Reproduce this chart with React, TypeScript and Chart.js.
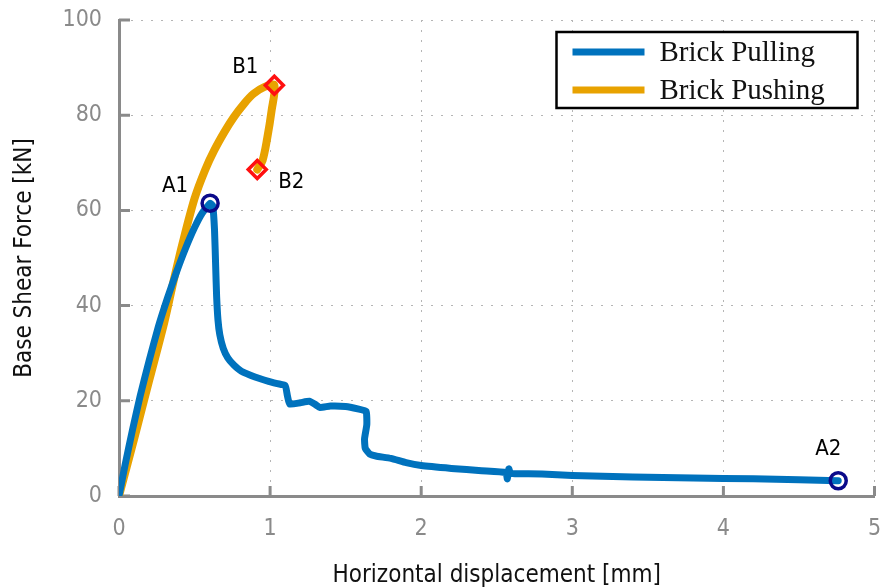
import React, { useEffect, useRef } from "react";
import { Chart, registerables } from "chart.js";

Chart.register(...registerables);

// ---- data ----
const pullingX = [0, 0.04, 0.09, 0.14, 0.2, 0.26, 0.32, 0.38, 0.44, 0.5, 0.55, 0.603, 0.62, 0.632, 0.64, 0.646, 0.655, 0.667, 0.69, 0.72, 0.76, 0.81, 0.9, 0.99, 1.05, 1.1, 1.115, 1.13, 1.2, 1.26, 1.3, 1.33, 1.4, 1.5, 1.58, 1.635, 1.64, 1.625, 1.63, 1.66, 1.7, 1.8, 1.9, 2.0, 2.2, 2.4, 2.56, 2.57, 2.58, 2.59, 2.62, 2.8, 3.0, 3.4, 3.8, 4.2, 4.5, 4.76];
const pullingY = [0, 6.5, 14, 21, 28.5, 35.5, 41.5, 47, 52, 56.4, 59.4, 61.5, 61, 56, 48, 42, 37, 33.9, 31, 29, 27.5, 26.2, 25, 24.1, 23.6, 23.2, 21, 19.3, 19.6, 19.9, 19.2, 18.6, 18.9, 18.8, 18.3, 17.8, 15, 12, 10, 8.8, 8.4, 7.9, 7.0, 6.4, 5.8, 5.3, 4.9, 3.6, 5.7, 4.8, 4.7, 4.6, 4.3, 4.0, 3.8, 3.6, 3.4, 3.2];

const pushingX = [0, 0.1, 0.2, 0.3, 0.36, 0.42, 0.5, 0.57, 0.63, 0.7, 0.76, 0.83, 0.89, 0.96, 1.028, 1.01, 0.98, 0.95, 0.915];
const pushingY = [0, 12, 24.3, 36.5, 45, 53, 62.5, 68.5, 72.6, 76.6, 79.6, 82.5, 84.5, 85.9, 86.3, 81, 75, 70.5, 68.6];

const pointsALabels = ["A1", "A2"];
const pointsAX = [0.603, 4.76];
const pointsAY = [61.5, 3.2];

const pointsBLabels = ["B1", "B2"];
const pointsBX = [1.028, 0.915];
const pointsBY = [86.3, 68.6];

const seriesLabels = ["Brick Pulling", "Brick Pushing"];
const xTicksMin = 0;
const xTicksMax = 5;
const yTicksMin = 0;
const yTicksMax = 100;

// ---- styles ----
const BLUE = "#0072BD";
const ORANGE = "#E8A200";
const AXIS_GRAY = "#8a8a8a";
const SANS = "'DejaVu Sans Condensed', 'DejaVu Sans', sans-serif";

const labelOffsets: Record<string, [number, number]> = {
  A1: [-35, -17],
  A2: [-10, -31],
  B1: [-29, -18],
  B2: [34, 13],
};

const zip = (xs: number[], ys: number[]) => xs.map((x, i) => ({ x, y: ys[i] }));

const inwardTicks = {
  id: "inwardTicks",
  beforeDatasetsDraw(chart: any) {
    const { ctx, chartArea, scales } = chart;
    ctx.save();
    ctx.strokeStyle = AXIS_GRAY;
    ctx.lineWidth = 3;
    ctx.beginPath();
    scales.x.ticks.forEach((t: any) => {
      const px = scales.x.getPixelForValue(t.value);
      ctx.moveTo(px, chartArea.bottom);
      ctx.lineTo(px, chartArea.bottom - 10);
    });
    scales.y.ticks.forEach((t: any) => {
      const py = scales.y.getPixelForValue(t.value);
      ctx.moveTo(chartArea.left, py);
      ctx.lineTo(chartArea.left + 11, py);
    });
    ctx.stroke();
    ctx.restore();
  },
};

const pointLabels = {
  id: "pointLabels",
  afterDatasetsDraw(chart: any) {
    const { ctx, scales } = chart;
    ctx.save();
    ctx.fillStyle = "#000";
    ctx.font = `22px ${SANS}`;
    ctx.textAlign = "center";
    ctx.textBaseline = "middle";
    const draw = (labels: string[], xs: number[], ys: number[]) => {
      labels.forEach((l, i) => {
        const px = scales.x.getPixelForValue(xs[i]);
        const py = scales.y.getPixelForValue(ys[i]);
        const [dx, dy] = labelOffsets[l] || [0, 0];
        ctx.fillText(l, px + dx, py + dy);
      });
    };
    draw(pointsALabels, pointsAX, pointsAY);
    draw(pointsBLabels, pointsBX, pointsBY);
    ctx.restore();
  },
};

const boxLegend = {
  id: "boxLegend",
  afterDraw(chart: any) {
    const { ctx, chartArea } = chart;
    const right = chartArea.right - 17;
    const left = right - 301;
    const top = chartArea.top + 12;
    const h = 76;
    ctx.save();
    ctx.fillStyle = "#fff";
    ctx.fillRect(left, top, right - left, h);
    ctx.strokeStyle = "#000";
    ctx.lineWidth = 2.5;
    ctx.strokeRect(left, top, right - left, h);
    const colors = [BLUE, ORANGE];
    ctx.font = "29px 'Liberation Serif', 'Times New Roman', serif";
    ctx.textBaseline = "middle";
    ctx.textAlign = "left";
    seriesLabels.forEach((lab, i) => {
      const y = top + 20 + i * 38;
      ctx.strokeStyle = colors[i];
      ctx.lineWidth = 7;
      ctx.beginPath();
      ctx.moveTo(left + 16, y);
      ctx.lineTo(left + 88, y);
      ctx.stroke();
      ctx.fillStyle = "#111";
      ctx.fillText(lab, left + 103, y + 1);
    });
    ctx.restore();
  },
};

export default function App() {
  const ref = useRef<HTMLCanvasElement | null>(null);
  useEffect(() => {
    if (!ref.current) return;
    const chart = new Chart(ref.current, {
      type: "scatter",
      data: {
        datasets: [
          {
            label: "A",
            data: zip(pointsAX, pointsAY),
            showLine: false,
            pointStyle: "circle",
            pointRadius: 8,
            pointBorderWidth: 3.5,
            pointBorderColor: "#0a0a8a",
            pointBackgroundColor: "rgba(0,0,0,0)",
          },
          {
            label: "B",
            data: zip(pointsBX, pointsBY),
            showLine: false,
            pointStyle: "rectRot",
            pointRadius: 9,
            pointBorderWidth: 3.5,
            pointBorderColor: "#ff1010",
            pointBackgroundColor: "rgba(0,0,0,0)",
          },
          {
            label: seriesLabels[0],
            data: zip(pullingX, pullingY),
            showLine: true,
            borderColor: BLUE,
            borderWidth: 7,
            pointRadius: 0,
            tension: 0.15,
            borderCapStyle: "round",
            borderJoinStyle: "round",
          },
          {
            label: seriesLabels[1],
            data: zip(pushingX, pushingY),
            showLine: true,
            borderColor: ORANGE,
            borderWidth: 8,
            pointRadius: 0,
            tension: 0.3,
            borderCapStyle: "round",
            borderJoinStyle: "round",
          },
        ],
      },
      options: {
        animation: false,
        responsive: false,
        layout: { padding: { top: 20, right: 7, left: 0, bottom: 0 } },
        plugins: {
          legend: { display: false },
          tooltip: { enabled: false },
        },
        scales: {
          x: {
            type: "linear",
            min: xTicksMin,
            max: xTicksMax,
            ticks: {
              stepSize: 1,
              color: AXIS_GRAY,
              font: { family: SANS, size: 23 },
              padding: 1,
            },
            grid: {
              color: "#b5b5b5",
              lineWidth: 1,
              drawTicks: true,
              tickLength: 18,
              tickColor: "rgba(0,0,0,0)",
            },
            border: { display: true, color: AXIS_GRAY, width: 3, dash: [2, 8] },
            title: {
              display: true,
              text: "Horizontal displacement [mm]",
              color: "#111",
              font: { family: SANS, size: 24 },
              padding: { top: 0, bottom: -3 },
            },
            afterFit: (s: any) => {
              s.height = 91;
            },
          },
          y: {
            type: "linear",
            min: yTicksMin,
            max: yTicksMax,
            ticks: {
              stepSize: 20,
              color: AXIS_GRAY,
              font: { family: SANS, size: 23 },
              padding: 1,
            },
            grid: {
              color: "#b5b5b5",
              lineWidth: 1,
              drawTicks: true,
              tickLength: 16,
              tickColor: "rgba(0,0,0,0)",
            },
            border: { display: true, color: AXIS_GRAY, width: 3, dash: [2, 8] },
            title: {
              display: true,
              text: "Base Shear Force [kN]",
              color: "#111",
              font: { family: SANS, size: 24 },
              padding: { top: 10, bottom: 0 },
            },
            afterFit: (s: any) => {
              s.width = 119;
            },
          },
        },
      },
      plugins: [inwardTicks, pointLabels, boxLegend],
    } as any);
    return () => chart.destroy();
  }, []);
  return (
    <div
      style={{
        position: "fixed",
        left: 0,
        top: 0,
        width: 880,
        height: 587,
        overflow: "hidden",
        background: "#fff",
      }}
    >
      <canvas ref={ref} width={887} height={587} style={{ display: "block" }} />
    </div>
  );
}
